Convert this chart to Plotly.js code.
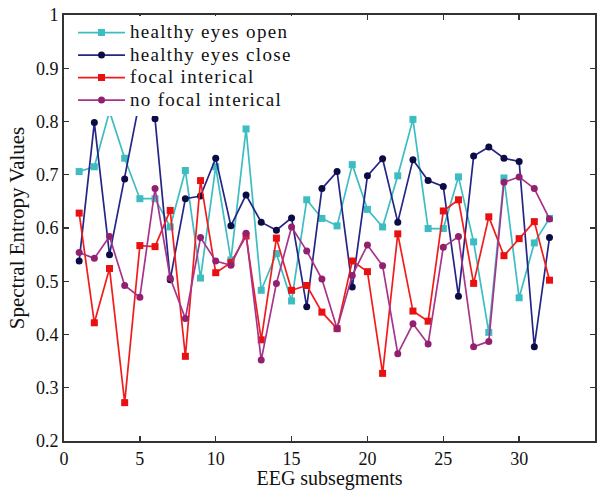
<!DOCTYPE html>
<html>
<head>
<meta charset="utf-8">
<script src="https://cdn.plot.ly/plotly-3.0.1.min.js"></script>
<style>html,body{margin:0;padding:0;background:#fff;}#chart{width:602px;height:490px;}</style>
</head>
<body>
<div id="chart"></div>
<script>
const segments = [1,2,3,4,5,6,7,8,9,10,11,12,13,14,15,16,17,18,19,20,21,22,23,24,25,26,27,28,29,30,31,32];
const seriesNames = ["healthy eyes open","healthy eyes close","focal interical","no focal interical"];
const eyesOpen = [0.706,0.715,0.819,0.731,0.655,0.655,0.602,0.708,0.506,0.715,0.540,0.786,0.483,0.552,0.463,0.653,0.618,0.604,0.719,0.635,0.602,0.698,0.804,0.599,0.599,0.696,0.574,0.404,0.694,0.469,0.572,0.618];
const eyesClose = [0.538,0.798,0.550,0.692,0.841,0.805,0.503,0.655,0.660,0.731,0.604,0.662,0.611,0.596,0.619,0.452,0.674,0.706,0.489,0.698,0.730,0.611,0.728,0.689,0.678,0.472,0.735,0.752,0.731,0.725,0.377,0.582];
const focal = [0.628,0.422,0.524,0.272,0.567,0.565,0.633,0.359,0.689,0.516,0.535,0.585,0.390,0.581,0.483,0.492,0.442,0.411,0.538,0.518,0.327,0.589,0.444,0.425,0.632,0.653,0.496,0.621,0.548,0.580,0.612,0.502];
const noFocal = [0.554,0.543,0.584,0.492,0.470,0.674,0.506,0.430,0.582,0.538,0.530,0.590,0.352,0.496,0.602,0.557,0.504,0.411,0.511,0.568,0.529,0.364,0.420,0.382,0.564,0.584,0.377,0.387,0.686,0.696,0.674,0.617];

const serif = 'Liberation Serif, Times New Roman, serif';
const styles = [
  {line:'#3dbdc2', marker:'#3dbdc2', symbol:'square'},
  {line:'#252585', marker:'#0c0c45', symbol:'circle'},
  {line:'#f21c1c', marker:'#e81010', symbol:'square'},
  {line:'#a8348a', marker:'#92206f', symbol:'circle'}
];
const ys = [eyesOpen, eyesClose, focal, noFocal];
const traces = ys.map((y,k)=>({
  x: segments, y: y,
  name: '<span style="font-size:19px;letter-spacing:1.3px">' + seriesNames[k] + '</span>',
  type:'scatter', mode:'lines+markers',
  line:{color:styles[k].line, width:1.7},
  marker:{color:styles[k].marker, symbol:styles[k].symbol, size:7}
}));

const layout = {
  width:602, height:490,
  margin:{l:64, r:7, t:15, b:49},
  paper_bgcolor:'#fff', plot_bgcolor:'#fff',
  font:{family:serif, color:'#111', size:17},
  showlegend:true,
  legend:{x:0.017, y:0.997, xanchor:'left', yanchor:'top', bgcolor:'#ffffff', borderwidth:0,
          font:{family:serif, size:15, color:'#111'}, tracegroupgap:0, itemwidth:47},
  xaxis:{range:[0,35], tickvals:[0,5,10,15,20,25,30,35], ticks:'inside', ticklen:5, tickcolor:'#333', tickwidth:1.3,
         showline:true, linecolor:'#333', linewidth:2, mirror:'ticks', showgrid:false, zeroline:false,
         tickfont:{family:serif, size:18, color:'#111'},
         title:{text:'EEG subsegments', font:{family:serif, size:20, color:'#111'}, standoff:0}},
  yaxis:{range:[0.2,1], tickvals:[0.2,0.3,0.4,0.5,0.6,0.7,0.8,0.9,1], ticktext:['0.2','0.3','0.4','0.5','0.6','0.7','0.8','0.9','1'],
         ticks:'inside', ticklen:5, tickcolor:'#333', tickwidth:1.3,
         showline:true, linecolor:'#333', linewidth:2, mirror:'ticks', showgrid:false, zeroline:false,
         tickfont:{family:serif, size:18, color:'#111'},
         title:{text:'Spectral Entropy Values', font:{family:serif, size:21, color:'#111'}, standoff:6}}
};
Plotly.newPlot('chart', traces, layout, {displayModeBar:false, staticPlot:true});
</script>
</body>
</html>
